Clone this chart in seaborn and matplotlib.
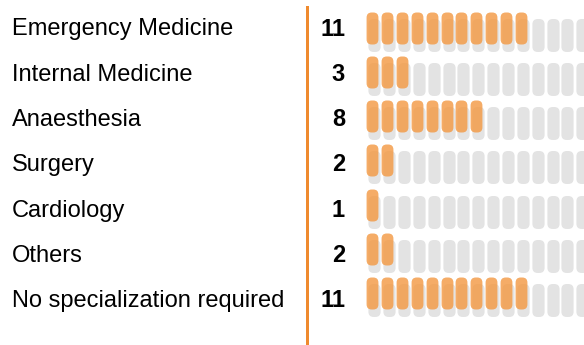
import numpy as np
import pandas as pd
import matplotlib
matplotlib.use("Agg")
import matplotlib.pyplot as plt
from matplotlib.patches import FancyBboxPatch
from matplotlib.path import Path
from matplotlib.transforms import ScaledTranslation
import seaborn as sns

categories = ["Emergency Medicine", "Internal Medicine", "Anaesthesia", "Surgery",
              "Cardiology", "Others", "No specialization required"]
counts = [11, 3, 8, 2, 1, 2, 11]
n_slots = 16

sns.set_theme(style="white")
plt.rcParams["font.family"] = ["Liberation Sans", "DejaVu Sans"]

ORANGE = "#F39A45"
LINE = "#EF8A2E"
GRAY = "#E3E3E3"

# one row per slot, flagged when the slot is filled
rows = []
for r, (cat, n) in enumerate(zip(categories, counts)):
    for s in range(n_slots):
        rows.append({"category": cat, "row": r, "slot": s, "filled": s < n})
df = pd.DataFrame(rows)

# rounded "pill" marker
pill_w, pill_h, rad = 0.37, 1.0, 0.16
box = FancyBboxPatch((-pill_w / 2, -pill_h / 2), pill_w, pill_h,
                     boxstyle=f"round,pad=0,rounding_size={rad}")
pill = Path(box.get_path().vertices, box.get_path().codes)

W, H, DPI = 584, 345, 100
fig = plt.figure(figsize=(W / DPI, H / DPI), dpi=DPI)
ax = fig.add_axes([307 / W, 0, (W - 307) / W, 338 / H])

size_pt = 32 * 72 / DPI
shadow = ax.transData + ScaledTranslation(2 / DPI, -7 / DPI, fig.dpi_scale_trans)

sns.scatterplot(data=df, x="slot", y="row", marker=pill, s=(size_pt * 1.03) ** 2,
                color=GRAY, linewidth=0, ax=ax, transform=shadow, zorder=1)
sns.scatterplot(data=df[df["filled"]], x="slot", y="row", marker=pill, s=size_pt ** 2,
                color=ORANGE, alpha=0.82, linewidth=0, ax=ax, zorder=2)

# axes scaled so one slot = 14.85 px and one row = 44.25 px
ax_w_px, ax_h_px = W - 307, 338
x0 = (307 - 372.3) / 14.85
ax.set_xlim(x0, x0 + ax_w_px / 14.85)
y0 = -20.5 / 44.25
ax.set_ylim(y0 + ax_h_px / 44.25, y0)

ax.set_xlabel("")
ax.set_ylabel("")
ax.set_xticks([])
ax.set_yticks([])
for side in ["top", "right", "bottom"]:
    ax.spines[side].set_visible(False)
ax.spines["left"].set_color(LINE)
ax.spines["left"].set_linewidth(3 * 72 / DPI)

for i, (cat, n) in enumerate(zip(categories, counts)):
    base = 1 - (35.5 + 45.3 * i) / H
    fig.text(12 / W, base, cat, ha="left", va="baseline", fontsize=17, color="black")
    fig.text(345 / W, base, str(n), ha="right", va="baseline", fontsize=17,
             fontweight="bold", color="black")

fig.savefig("out.png", dpi=DPI)
